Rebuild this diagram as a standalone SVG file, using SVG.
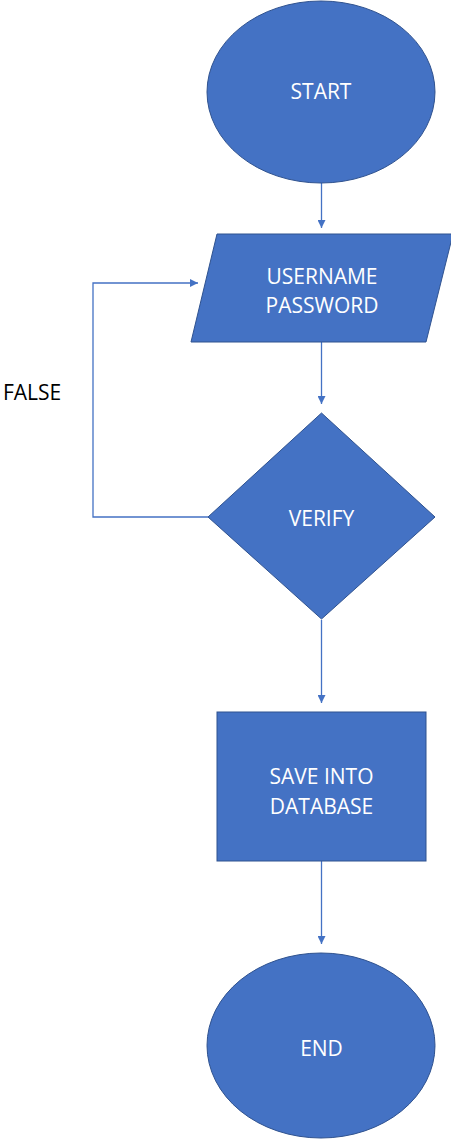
<svg xmlns="http://www.w3.org/2000/svg" width="451" height="1140" viewBox="0 0 451 1140">
<style>
.shape{fill:#4472C4;stroke:#2F528F;stroke-width:1}
.lbl{font-family:"Open Sans","Liberation Sans",sans-serif;font-size:21px;fill:#FFFFFF;text-anchor:middle}
.note{font-family:"Open Sans","Liberation Sans",sans-serif;font-size:21px;fill:#000000}
.conn{fill:none;stroke:#4472C4;stroke-width:1.3}
</style>
<defs>
<marker id="arr" viewBox="0 0 10 10" refX="10" refY="5" markerWidth="8" markerHeight="8" markerUnits="userSpaceOnUse" orient="auto">
<path d="M0,0 L10,5 L0,10 Z" fill="#4472C4"/>
</marker>
</defs>
<rect width="451" height="1140" fill="#FFFFFF"/>
<g id="connectors">
<line class="conn" x1="321.5" y1="183" x2="321.5" y2="228" marker-end="url(#arr)"/>
<line class="conn" x1="321.5" y1="342" x2="321.5" y2="404" marker-end="url(#arr)"/>
<polyline class="conn" points="208,517 93,517 93,283 198,283" marker-end="url(#arr)"/>
<line class="conn" x1="321.5" y1="620" x2="321.5" y2="703" marker-end="url(#arr)"/>
<line class="conn" x1="321.5" y1="861" x2="321.5" y2="944" marker-end="url(#arr)"/>
</g>
<g id="start">
<ellipse class="shape" cx="321" cy="92" rx="114" ry="91"/>
<text class="lbl" x="321" y="99">START</text>
</g>
<g id="input">
<polygon class="shape" points="217,234 453,234 426,342 191,342"/>
<text class="lbl" x="322" y="284">USERNAME</text>
<text class="lbl" x="322" y="313">PASSWORD</text>
</g>
<g id="verify">
<polygon class="shape" points="321.5,413 435,517 321.5,619 208,517"/>
<text class="lbl" x="321.5" y="526">VERIFY</text>
</g>
<g id="false-label">
<text class="note" x="3" y="400">FALSE</text>
</g>
<g id="save">
<rect class="shape" x="217" y="712" width="209" height="149"/>
<text class="lbl" x="321.5" y="784">SAVE INTO</text>
<text class="lbl" x="321.5" y="814">DATABASE</text>
</g>
<g id="end">
<ellipse class="shape" cx="321" cy="1045.5" rx="114" ry="92.5"/>
<text class="lbl" x="321.5" y="1056">END</text>
</g>
</svg>
